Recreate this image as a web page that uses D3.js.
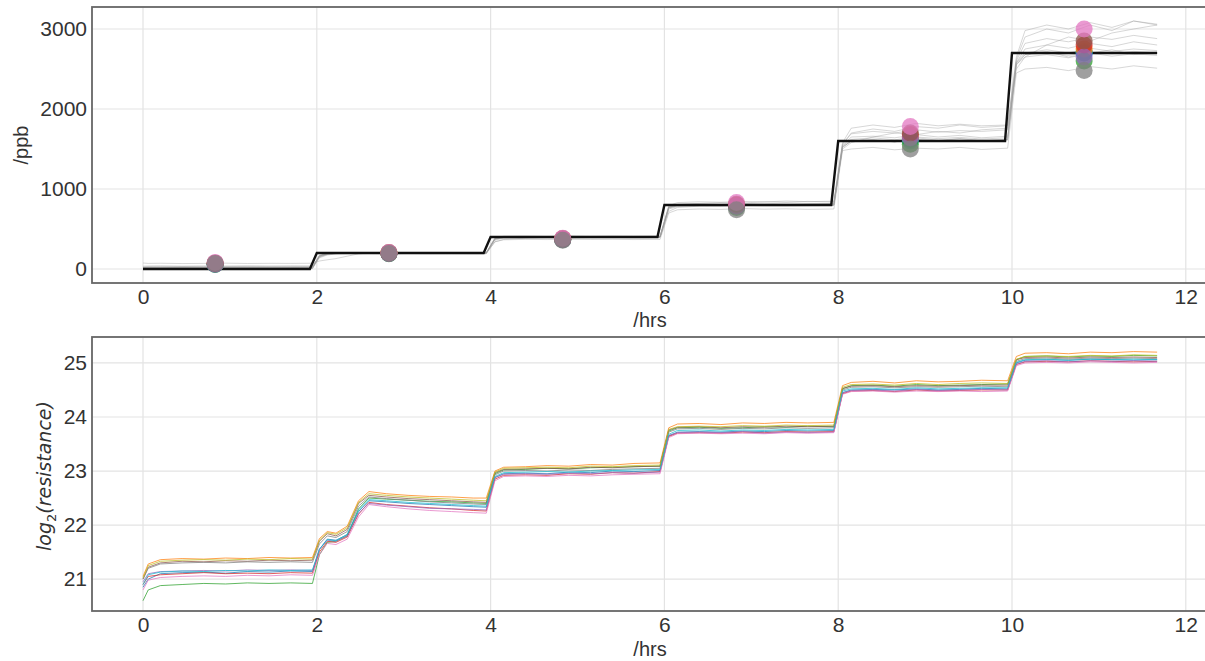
<!DOCTYPE html>
<html>
<head>
<meta charset="utf-8">
<script src="https://cdn.jsdelivr.net/npm/d3@7"></script>
<style>
body { margin:0; background:#fff; }
svg { display:block; font-family:"Liberation Sans", Arial, sans-serif; }
</style>
</head>
<body>
<div id="plot"></div>
<script>

// shared time axis (hours) for every trace
var hours = [
    0, 0.06, 0.2, 0.45, 0.7, 0.95, 1.2, 1.45, 1.7, 1.95,
    2.03, 2.12, 2.22, 2.35, 2.48, 2.6, 2.8, 3.05, 3.3, 3.55, 3.8, 3.95,
    4.05, 4.15, 4.4, 4.65, 4.9, 5.15, 5.4, 5.65, 5.95,
    6.05, 6.15, 6.4, 6.65, 6.9, 7.15, 7.4, 7.65, 7.95,
    8.05, 8.15, 8.4, 8.65, 8.9, 9.15, 9.4, 9.65, 9.95,
    10.05, 10.15, 10.4, 10.65, 10.9, 11.15, 11.4, 11.67
];

// set concentration (black step)
var truthHours = [0, 1.92, 2.0, 3.92, 4.0, 5.92, 6.0, 7.92, 8.0, 9.92, 10.0, 11.67];
var truthPpb = [0, 0, 200, 200, 400, 400, 800, 800, 1600, 1600, 2700, 2700];

// predicted concentration per sensor (grey traces)
var predPpb = [
    [20, 30, 25, 30, 28, 32, 30, 27, 30, 29,
     150, 185, 195, 200, 198, 202, 197, 200, 203, 199, 201, 200,
     370, 395, 398, 402, 397, 400, 404, 399, 401,
     760, 790, 800, 795, 805, 798, 802, 796, 800,
     1520, 1600, 1620, 1590, 1640, 1610, 1630, 1600, 1620,
     2550, 2680, 2720, 2650, 2700, 2740, 2680, 2710],
    [75, 70, 72, 68, 70, 73, 69, 71, 70, 72,
     100, 115, 130, 160, 190, 200, 205, 198, 202, 200, 197, 199,
     340, 370, 385, 390, 388, 392, 395, 390, 393,
     720, 770, 785, 790, 795, 800, 805, 810, 820,
     1500, 1580, 1650, 1700, 1680, 1720, 1700, 1740, 1760,
     2500, 2650, 2800, 2900, 2850, 2950, 3000, 3050],
    [10, 15, 12, 14, 11, 13, 15, 12, 14, 13,
     160, 190, 200, 205, 200, 203, 198, 201, 199, 202, 200, 198,
     380, 400, 405, 398, 402, 406, 400, 403, 405,
     780, 810, 820, 830, 825, 840, 835, 845, 840,
     1560, 1700, 1750, 1720, 1780, 1760, 1800, 1770, 1790,
     2620, 2900, 3000, 2950, 3050, 2980, 3100, 3050],
    [5, 8, 6, 9, 7, 8, 6, 9, 7, 8,
     170, 195, 198, 200, 202, 199, 201, 198, 200, 202, 199, 200,
     375, 398, 400, 402, 399, 401, 398, 402, 400,
     770, 800, 805, 800, 810, 805, 800, 808, 805,
     1540, 1650, 1660, 1640, 1680, 1650, 1670, 1640, 1660,
     2580, 2750, 2800, 2760, 2820, 2780, 2840, 2800],
    [15, 12, 14, 16, 13, 15, 14, 12, 15, 14,
     150, 180, 192, 198, 200, 197, 200, 202, 198, 200, 201, 199,
     360, 385, 390, 395, 392, 396, 394, 398, 396,
     750, 780, 790, 785, 795, 790, 788, 792, 795,
     1520, 1600, 1610, 1590, 1620, 1600, 1630, 1610, 1620,
     2560, 2650, 2680, 2640, 2700, 2660, 2690, 2670],
    [25, 22, 28, 24, 26, 23, 27, 25, 24, 26,
     165, 192, 200, 203, 199, 201, 204, 200, 198, 201, 203, 200,
     385, 402, 405, 400, 404, 402, 406, 403, 405,
     775, 805, 815, 810, 820, 815, 825, 820, 822,
     1560, 1690, 1720, 1700, 1740, 1710, 1730, 1720, 1740,
     2600, 2820, 2880, 2840, 2900, 2870, 2920, 2880],
    [35, 38, 40, 36, 39, 37, 41, 38, 40, 39,
     160, 190, 202, 206, 203, 205, 202, 206, 204, 203, 205, 204,
     390, 410, 412, 408, 414, 410, 413, 411, 414,
     790, 830, 840, 835, 845, 838, 850, 842, 848,
     1580, 1760, 1800, 1770, 1820, 1790, 1810, 1790, 1800,
     2650, 2980, 3050, 3000, 3080, 3020, 3100, 3060],
    [0, 5, 3, 6, 4, 5, 3, 6, 4, 5,
     140, 175, 188, 192, 190, 193, 189, 192, 190, 191, 189, 190,
     340, 365, 370, 368, 372, 369, 371, 368, 370,
     700, 740, 750, 745, 755, 748, 752, 746, 750,
     1480, 1500, 1520, 1490, 1510, 1500, 1520, 1495, 1510,
     2450, 2500, 2520, 2480, 2530, 2500, 2540, 2510],
    [18, 20, 17, 21, 19, 20, 18, 21, 19, 20,
     170, 196, 200, 199, 202, 200, 198, 201, 200, 199, 201, 200,
     378, 398, 401, 399, 402, 400, 401, 399, 402,
     770, 798, 802, 798, 806, 800, 804, 799, 803,
     1540, 1620, 1640, 1615, 1650, 1630, 1645, 1625, 1640,
     2580, 2700, 2740, 2700, 2760, 2720, 2750, 2730],
    [12, 10, 13, 11, 12, 10, 13, 11, 12, 11,
     160, 188, 197, 200, 198, 201, 199, 197, 200, 198, 200, 199,
     372, 396, 398, 396, 399, 397, 400, 398, 399,
     765, 792, 798, 794, 800, 796, 799, 795, 798,
     1530, 1600, 1610, 1590, 1620, 1605, 1615, 1600, 1610,
     2570, 2680, 2700, 2670, 2710, 2690, 2720, 2700]
];

// mean prediction per sensor, one per step
var dotHours = [0.83, 2.83, 4.83, 6.83, 8.83, 10.83];
var dotPpb = [
    [60, 195, 370, 790, 1620, 2700],
    [70, 200, 375, 800, 1650, 2750],
    [55, 190, 365, 770, 1560, 2600],
    [65, 198, 372, 795, 1680, 2800],
    [60, 195, 368, 785, 1640, 2650],
    [75, 205, 380, 810, 1700, 2850],
    [80, 205, 385, 830, 1780, 3000],
    [70, 195, 360, 740, 1500, 2480],
    [65, 200, 375, 800, 1620, 2720],
    [60, 198, 370, 790, 1600, 2700]
];
// order the dots are drawn in (grey ends on top)
var dotOrder = [8, 9, 0, 1, 2, 3, 4, 5, 6, 7];

// log2 resistance per sensor
var logRes = [
    [20.85, 21.0, 21.1, 21.12, 21.13, 21.11, 21.14, 21.13, 21.15, 21.14,
     21.55, 21.74, 21.72, 21.82, 22.25, 22.45, 22.43, 22.4, 22.38, 22.36, 22.34, 22.33,
     22.88, 22.95, 22.96, 22.95, 22.98, 22.97, 23.0, 22.99, 23.01,
     23.65, 23.72, 23.73, 23.72, 23.74, 23.73, 23.75, 23.74, 23.75,
     24.45, 24.5, 24.51, 24.5, 24.52, 24.5, 24.51, 24.53, 24.52,
     25.0, 25.05, 25.06, 25.05, 25.07, 25.06, 25.05, 25.06],
    [21.05, 21.28, 21.36, 21.38, 21.37, 21.39, 21.38, 21.4, 21.39, 21.4,
     21.75, 21.88, 21.85, 21.98, 22.45, 22.62, 22.58, 22.55, 22.53, 22.52, 22.5, 22.5,
     23.0, 23.07, 23.08, 23.1, 23.09, 23.12, 23.11, 23.14, 23.15,
     23.8, 23.87, 23.88, 23.86, 23.89, 23.88, 23.9, 23.89, 23.9,
     24.58, 24.64, 24.66, 24.63, 24.67, 24.65, 24.66, 24.68, 24.67,
     25.12, 25.18, 25.19, 25.17, 25.2, 25.19, 25.21, 25.2],
    [20.6, 20.8, 20.88, 20.9, 20.92, 20.91, 20.93, 20.92, 20.93, 20.92,
     21.45, 21.68, 21.7, 21.8, 22.3, 22.5, 22.48, 22.46, 22.44, 22.43, 22.41, 22.4,
     22.95, 23.02, 23.03, 23.05, 23.04, 23.06, 23.07, 23.08, 23.09,
     23.74, 23.8, 23.81, 23.79, 23.8, 23.82, 23.81, 23.83, 23.82,
     24.52, 24.58, 24.59, 24.57, 24.6, 24.58, 24.59, 24.6, 24.61,
     25.06, 25.12, 25.13, 25.11, 25.13, 25.12, 25.14, 25.13],
    [20.9, 21.05, 21.08, 21.1, 21.12, 21.1, 21.11, 21.1, 21.12, 21.11,
     21.5, 21.7, 21.68, 21.78, 22.2, 22.42, 22.38, 22.35, 22.32, 22.3, 22.27, 22.26,
     22.85, 22.92, 22.93, 22.92, 22.95, 22.94, 22.97, 22.96, 22.99,
     23.64, 23.7, 23.71, 23.7, 23.72, 23.71, 23.73, 23.72, 23.73,
     24.43, 24.48, 24.49, 24.47, 24.5, 24.48, 24.49, 24.5, 24.5,
     24.97, 25.02, 25.03, 25.02, 25.04, 25.03, 25.02, 25.03],
    [20.95, 21.1, 21.14, 21.15, 21.16, 21.15, 21.17, 21.16, 21.17, 21.16,
     21.55, 21.72, 21.7, 21.8, 22.22, 22.4, 22.37, 22.34, 22.31, 22.3, 22.29, 22.28,
     22.88, 22.94, 22.95, 22.94, 22.96, 22.95, 22.97, 22.96, 22.98,
     23.66, 23.71, 23.72, 23.71, 23.73, 23.7, 23.72, 23.71, 23.72,
     24.45, 24.49, 24.5, 24.48, 24.51, 24.49, 24.5, 24.51, 24.5,
     24.98, 25.03, 25.04, 25.02, 25.04, 25.03, 25.04, 25.03],
    [21.0, 21.22, 21.3, 21.33, 21.32, 21.34, 21.33, 21.35, 21.34, 21.35,
     21.7, 21.84, 21.8, 21.92, 22.4, 22.55, 22.52, 22.49, 22.47, 22.45, 22.43, 22.42,
     22.97, 23.03, 23.04, 23.05, 23.04, 23.07, 23.06, 23.08, 23.09,
     23.76, 23.81, 23.82, 23.8, 23.82, 23.81, 23.83, 23.82, 23.83,
     24.53, 24.57, 24.58, 24.56, 24.58, 24.57, 24.58, 24.59, 24.59,
     25.06, 25.1, 25.11, 25.09, 25.11, 25.1, 25.11, 25.1],
    [20.8, 20.98, 21.03, 21.05, 21.06, 21.05, 21.07, 21.06, 21.08, 21.07,
     21.45, 21.66, 21.64, 21.74, 22.15, 22.38, 22.34, 22.3, 22.27, 22.25, 22.23, 22.22,
     22.82, 22.9, 22.91, 22.9, 22.92, 22.91, 22.93, 22.94, 22.95,
     23.62, 23.69, 23.7, 23.69, 23.7, 23.69, 23.71, 23.7, 23.71,
     24.42, 24.47, 24.48, 24.46, 24.48, 24.47, 24.48, 24.47, 24.48,
     24.95, 25.0, 25.01, 25.0, 25.02, 25.01, 25.0, 25.01],
    [21.0, 21.2, 21.28, 21.3, 21.31, 21.3, 21.32, 21.31, 21.32, 21.31,
     21.65, 21.8, 21.77, 21.88, 22.35, 22.52, 22.49, 22.46, 22.43, 22.41, 22.39, 22.38,
     22.93, 23.0, 23.01, 23.0, 23.02, 23.01, 23.03, 23.04, 23.05,
     23.72, 23.78, 23.79, 23.77, 23.79, 23.78, 23.8, 23.79, 23.8,
     24.5, 24.55, 24.56, 24.54, 24.56, 24.55, 24.56, 24.57, 24.56,
     25.03, 25.08, 25.09, 25.07, 25.09, 25.08, 25.09, 25.08],
    [21.02, 21.25, 21.33, 21.35, 21.36, 21.35, 21.37, 21.36, 21.38, 21.37,
     21.72, 21.86, 21.83, 21.95, 22.42, 22.58, 22.55, 22.52, 22.5, 22.48, 22.46, 22.45,
     22.98, 23.05, 23.06, 23.07, 23.06, 23.09, 23.08, 23.1, 23.11,
     23.77, 23.82, 23.83, 23.82, 23.84, 23.83, 23.85, 23.84, 23.85,
     24.55, 24.6, 24.61, 24.59, 24.62, 24.6, 24.62, 24.63, 24.62,
     25.07, 25.12, 25.13, 25.12, 25.14, 25.13, 25.15, 25.14],
    [20.9, 21.08, 21.13, 21.15, 21.14, 21.16, 21.15, 21.17, 21.16, 21.17,
     21.55, 21.73, 21.71, 21.83, 22.28, 22.47, 22.45, 22.42, 22.4, 22.38, 22.36, 22.35,
     22.9, 22.97, 22.98, 22.99, 22.98, 23.0, 23.01, 23.02, 23.03,
     23.68, 23.75, 23.76, 23.74, 23.76, 23.75, 23.77, 23.76, 23.77,
     24.48, 24.52, 24.53, 24.51, 24.54, 24.52, 24.53, 24.54, 24.54,
     25.01, 25.06, 25.07, 25.05, 25.07, 25.06, 25.07, 25.06]
];

var hourTicks = [0, 2, 4, 6, 8, 10, 12];
var ppbTicks = [0, 1000, 2000, 3000];
var resTicks = [21, 22, 23, 24, 25];
var sensorColors = d3.schemeCategory10;

window.onload = function(){

    var svg = d3.select("#plot")
                .append("svg")
                .attr("width", 1205)
                .attr("height", 661);

    var xScale = d3.scaleLinear()
    .domain([-0.587, 12.244])
    .range([92, 1207]);

    var yTop = d3.scaleLinear()
    .domain([-175, 3275])
    .range([283, 7]);

    var yBot = d3.scaleLinear()
    .domain([20.41, 25.48])
    .range([611, 337]);

    drawFrame(svg, xScale, yTop, ppbTicks);
    drawFrame(svg, xScale, yBot, resTicks);

    // top panel
    var line = d3.line()
    .x((d, i) => xScale(hours[i]))
    .y(d => yTop(d));

    svg.append("g")
    .selectAll("path")
    .data(predPpb)
    .enter()
    .append("path")
    .attr("d", d => line(d))
    .style("fill", "none")
    .style("stroke", "#9a9a9a")
    .style("stroke-width", 0.8)
    .style("opacity", 0.5);

    var truthLine = d3.line()
    .x((d, i) => xScale(truthHours[i]))
    .y(d => yTop(d));

    svg.append("path")
    .attr("d", truthLine(truthPpb))
    .style("fill", "none")
    .style("stroke", "#111")
    .style("stroke-width", 2.4);

    dotOrder.forEach(s => {

        svg.append("g")
        .selectAll("circle")
        .data(dotPpb[s])
        .enter()
        .append("circle")
        .attr("cx", (d, i) => xScale(dotHours[i]))
        .attr("cy", d => yTop(d))
        .attr("r", 8.5)
        .style("fill", sensorColors[s])
        .style("opacity", 0.75);

    });

    // bottom panel
    var resLine = d3.line()
    .x((d, i) => xScale(hours[i]))
    .y(d => yBot(d));

    svg.append("g")
    .selectAll("path")
    .data(logRes)
    .enter()
    .append("path")
    .attr("d", d => resLine(d))
    .style("fill", "none")
    .style("stroke", (d, i) => sensorColors[i])
    .style("stroke-width", 1)
    .style("opacity", 0.75);

    // axis labels
    svg.append("text")
    .attr("x", 650).attr("y", 327)
    .attr("text-anchor", "middle")
    .style("font-size", "20px").style("fill", "#333")
    .text("/hrs");

    svg.append("text")
    .attr("x", 650).attr("y", 656)
    .attr("text-anchor", "middle")
    .style("font-size", "20px").style("fill", "#333")
    .text("/hrs");

    svg.append("text")
    .attr("transform", "translate(28,145) rotate(-90)")
    .attr("text-anchor", "middle")
    .style("font-size", "20px").style("fill", "#333")
    .text("/ppb");

    var ylab = svg.append("text")
    .attr("transform", "translate(51,476) rotate(-90)")
    .attr("text-anchor", "middle")
    .style("font-family", "DejaVu Sans")
    .style("font-style", "italic")
    .style("font-size", "19px").style("fill", "#333");

    ylab.append("tspan").text("log");
    ylab.append("tspan").attr("dy", 5).style("font-size", "13px").style("font-style", "normal").text("2");
    ylab.append("tspan").attr("dy", -5).text("(resistance)");

};

function drawFrame(svg, xScale, yScale, yTicks){

    var x0 = xScale.range()[0], x1 = xScale.range()[1];
    var y0 = yScale.range()[0], y1 = yScale.range()[1];

    var grid = svg.append("g").style("stroke", "#e3e3e3").style("stroke-width", 1.2);

    grid.selectAll("line.v")
    .data(hourTicks)
    .enter()
    .append("line")
    .attr("x1", d => xScale(d)).attr("x2", d => xScale(d))
    .attr("y1", y1).attr("y2", y0);

    grid.selectAll("line.h")
    .data(yTicks)
    .enter()
    .append("line")
    .attr("x1", x0).attr("x2", x1)
    .attr("y1", d => yScale(d)).attr("y2", d => yScale(d));

    var xAxis = svg.append("g")
    .attr("transform", "translate(0," + y0 + ")")
    .call(d3.axisBottom(xScale).tickValues(hourTicks).tickSize(0).tickPadding(6).tickFormat(d3.format("d")));

    var yAxis = svg.append("g")
    .attr("transform", "translate(" + x0 + ",0)")
    .call(d3.axisLeft(yScale).tickValues(yTicks).tickSize(0).tickPadding(5).tickFormat(d3.format("d")));

    [xAxis, yAxis].forEach(a => {

        a.select(".domain").remove();
        a.selectAll("text")
        .style("font-family", "Liberation Sans, Arial, sans-serif")
        .style("font-size", "21px")
        .style("fill", "#333");

    });

    svg.append("rect")
    .attr("x", x0).attr("y", y1)
    .attr("width", x1 - x0).attr("height", y0 - y1)
    .style("fill", "none")
    .style("stroke", "#666")
    .style("stroke-width", 1.8);

}

</script>
</body>
</html>
